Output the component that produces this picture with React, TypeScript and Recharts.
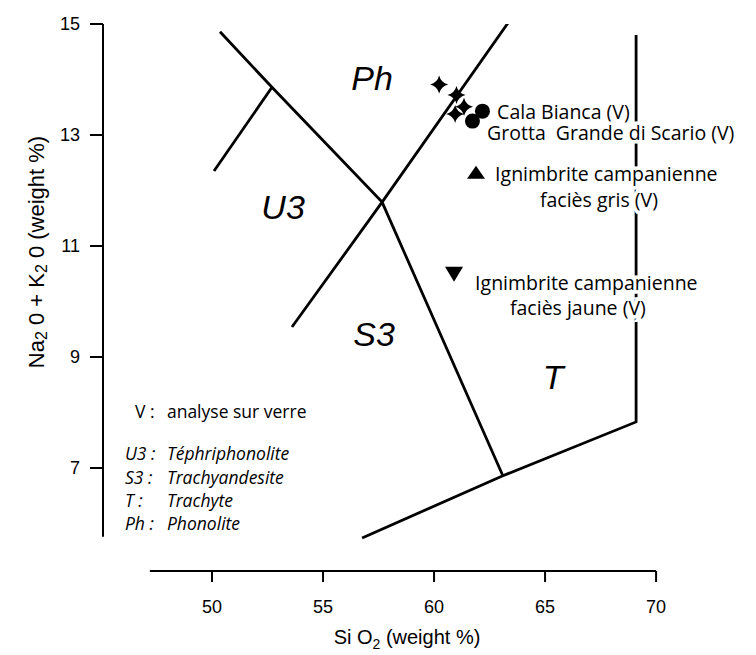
import React from 'react';
import { ScatterChart, Scatter, XAxis, YAxis, ReferenceLine, ReferenceDot, Label } from 'recharts';

// axis ticks
const xTicks = [50, 55, 60, 65, 70];
const yTicks = [7, 9, 11, 13, 15];

// TAS field boundaries (SiO2, Na2O+K2O)
const upperDiagonal = [
  { x: 50.36, y: 14.86 },
  { x: 52.7, y: 13.86 },
  { x: 57.66, y: 11.79 },
  { x: 63.1, y: 6.86 },
];
const tephriBranch = [
  { x: 52.7, y: 13.86 },
  { x: 50.09, y: 12.35 },
];
const phonoTrachyLine = [
  { x: 53.6, y: 9.54 },
  { x: 57.66, y: 11.79 },
  { x: 63.42, y: 15.07 },
];
const lowerBoundary = [
  { x: 56.76, y: 5.74 },
  { x: 63.1, y: 6.86 },
  { x: 69.1, y: 7.83 },
  { x: 69.1, y: 14.8 },
];

// samples
const calaBianca = [
  { x: 60.23, y: 13.91 },
  { x: 61.01, y: 13.72 },
  { x: 61.35, y: 13.51 },
  { x: 60.95, y: 13.38 },
];
const grottaGrande = [
  { x: 62.18, y: 13.43 },
  { x: 61.73, y: 13.25 },
];
const faciesGris = [{ x: 61.89, y: 12.32 }];
const faciesJaune = [{ x: 60.9, y: 10.5 }];

// text in the plot
const fieldLabels = [
  { text: 'Ph', x: 57.21, y: 14.03 },
  { text: 'U3', x: 53.2, y: 11.7 },
  { text: 'S3', x: 57.3, y: 9.41 },
  { text: 'T', x: 65.36, y: 8.64 },
];
const sampleLabels = [
  { text: 'Cala Bianca (V)', x: 62.84, y: 13.43 },
  { text: 'Grotta  Grande di Scario (V)', x: 62.39, y: 13.04 },
  { text: 'Ignimbrite campanienne', x: 62.75, y: 12.3 },
  { text: 'faciès gris (V)', x: 64.77, y: 11.84 },
  { text: 'Ignimbrite campanienne', x: 61.85, y: 10.35 },
  { text: 'faciès jaune (V)', x: 63.42, y: 9.9 },
];
const keyCodes = ['U3 :', 'S3 :', 'T :', 'Ph :'];
const keyNames = ['Téphriphonolite', 'Trachyandesite', 'Trachyte', 'Phonolite'];
const keyRows = [7.27, 6.84, 6.42, 6.01];

const helv = '"Liberation Sans", Arial, Helvetica, sans-serif';
const gill = '"Open Sans", "Noto Sans", sans-serif';

const noDot = () => <g />;

const Star = ({ cx, cy }: any) => {
  const r = 9;
  const c = 1.8;
  return (
    <path
      d={`M${cx},${cy - r} Q${cx + c},${cy - c} ${cx + r},${cy} Q${cx + c},${cy + c} ${cx},${cy + r} Q${cx - c},${cy + c} ${cx - r},${cy} Q${cx - c},${cy - c} ${cx},${cy - r} Z`}
      fill="#000"
    />
  );
};
const Dot = ({ cx, cy }: any) => <circle cx={cx} cy={cy} r={7.5} fill="#000" />;
const TriUp = ({ cx, cy }: any) => (
  <path d={`M${cx},${cy - 7} L${cx + 9},${cy + 6} L${cx - 9},${cy + 6} Z`} fill="#000" />
);
const TriDown = ({ cx, cy }: any) => (
  <path d={`M${cx - 9},${cy - 7} L${cx + 9},${cy - 7} L${cx},${cy + 8} Z`} fill="#000" />
);

const textShape = (text: string, opts: any) => (p: any) => (
  <text
    x={p.cx}
    y={p.cy}
    dominantBaseline="central"
    fill="#000"
    style={{ whiteSpace: 'pre' }}
    {...opts}
  >
    {text}
  </text>
);

const XTitle = ({ viewBox }: any) => (
  <text x={viewBox.x + 304} y={viewBox.y + 73} textAnchor="middle" fontFamily={helv} fontSize={20} fill="#000">
    Si O<tspan dy={5} fontSize={14}>2</tspan>
    <tspan dy={-5}> (weight %)</tspan>
  </text>
);

const YTitle = ({ viewBox }: any) => {
  const cx = viewBox.x - 7;
  const cy = viewBox.y + 228;
  return (
    <text
      x={cx}
      y={cy}
      transform={`rotate(-90, ${cx}, ${cy})`}
      textAnchor="middle"
      dominantBaseline="central"
      fontFamily={helv}
      fontSize={22}
      fill="#000"
    >
      Na<tspan dy={5} fontSize={16}>2</tspan>
      <tspan dy={-5}> 0 + K</tspan>
      <tspan dy={5} fontSize={16}>2</tspan>
      <tspan dy={-5}> 0 (weight %)</tspan>
    </text>
  );
};

const lineStyle = { stroke: '#000', strokeWidth: 2.8 };
const sampleFont = { fontFamily: gill, fontSize: 19.5, stroke: '#fff', strokeWidth: 7, paintOrder: 'stroke' };
const keyFont = { fontFamily: gill, fontSize: 17.5 };

export default function App() {
  return (
    <ScatterChart
      width={748}
      height={646}
      margin={{ top: 16, right: 8, bottom: 43, left: 35 }}
      style={{ background: '#fff' }}
    >
      <XAxis
        type="number"
        dataKey="x"
        domain={[45.09, 74.14]}
        ticks={xTicks}
        allowDataOverflow
        axisLine={false}
        tickLine={{ stroke: '#000', strokeWidth: 2 }}
        tickSize={11}
        tickMargin={18}
        height={40}
        tick={{ fill: '#000', fontSize: 18, fontFamily: helv }}
      >
        <Label content={<XTitle />} />
      </XAxis>
      <YAxis
        type="number"
        dataKey="y"
        domain={[5.144, 15]}
        ticks={yTicks}
        allowDataOverflow
        axisLine={false}
        tickLine={{ stroke: '#000', strokeWidth: 2 }}
        tickSize={13}
        tickMargin={10}
        width={60}
        tick={{ fill: '#000', fontSize: 18, fontFamily: helv }}
      >
        <Label content={<YTitle />} />
      </YAxis>

      <ReferenceLine segment={[{ x: 47.2, y: 5.144 }, { x: 70, y: 5.144 }]} stroke="#000" strokeWidth={2} ifOverflow="visible" />
      <ReferenceLine segment={[{ x: 45.09, y: 5.76 }, { x: 45.09, y: 15 }]} stroke="#000" strokeWidth={2} ifOverflow="visible" />

      {fieldLabels.map((f) => (
        <ReferenceDot
          key={f.text}
          x={f.x}
          y={f.y}
          r={0}
          shape={textShape(f.text, { textAnchor: 'middle', fontFamily: helv, fontStyle: 'italic', fontSize: 34 })}
        />
      ))}
      <ReferenceDot x={46.53} y={8.03} r={0} shape={textShape('V :', keyFont)} />
      <ReferenceDot x={47.97} y={8.03} r={0} shape={textShape('analyse sur verre', keyFont)} />
      {keyCodes.map((k, i) => (
        <ReferenceDot key={k} x={46.08} y={keyRows[i]} r={0} shape={textShape(k, { ...keyFont, fontStyle: 'italic' })} />
      ))}
      {keyNames.map((k, i) => (
        <ReferenceDot key={k} x={47.97} y={keyRows[i]} r={0} shape={textShape(k, { ...keyFont, fontStyle: 'italic' })} />
      ))}

      <Scatter data={upperDiagonal} line={lineStyle} shape={noDot} isAnimationActive={false} />
      <Scatter data={tephriBranch} line={lineStyle} shape={noDot} isAnimationActive={false} />
      <Scatter data={phonoTrachyLine} line={lineStyle} shape={noDot} isAnimationActive={false} />
      <Scatter data={lowerBoundary} line={lineStyle} shape={noDot} isAnimationActive={false} />

      {sampleLabels.map((s, i) => (
        <Scatter
          key={'lbl' + i}
          data={[{ x: s.x, y: s.y }]}
          shape={textShape(s.text, sampleFont)}
          isAnimationActive={false}
        />
      ))}

      <Scatter data={calaBianca} shape={Star} isAnimationActive={false} />
      <Scatter data={grottaGrande} shape={Dot} isAnimationActive={false} />
      <Scatter data={faciesGris} shape={TriUp} isAnimationActive={false} />
      <Scatter data={faciesJaune} shape={TriDown} isAnimationActive={false} />
    </ScatterChart>
  );
}
